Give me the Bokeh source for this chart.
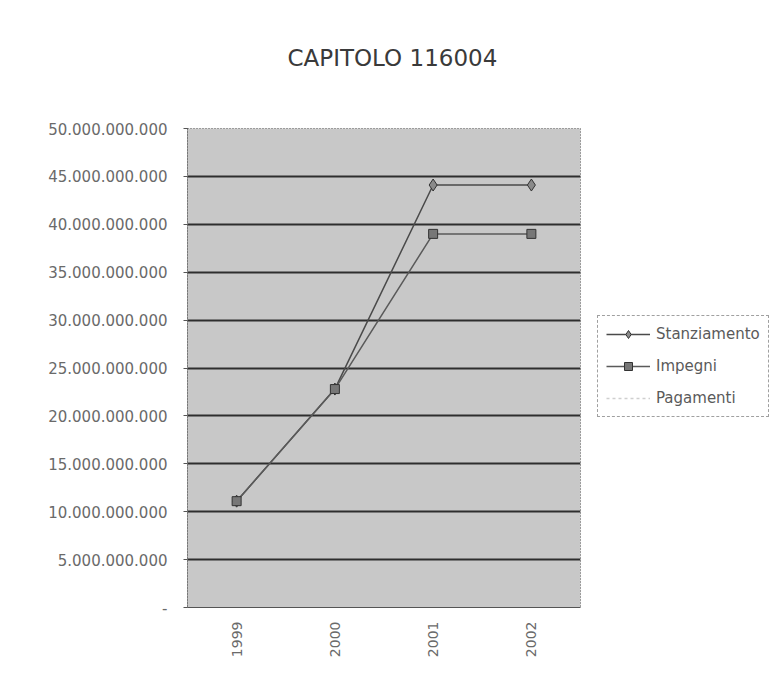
from bokeh.plotting import figure
from bokeh.models import FixedTicker, Legend, LegendItem, Title, Range1d
from bokeh.layouts import row
from bokeh.embed import file_html
from bokeh.resources import INLINE

years = ["1999", "2000", "2001", "2002"]
stanziamento = [11.1e9, 22.8e9, 44.1e9, 44.1e9]
impegni = [11.1e9, 22.8e9, 39.0e9, 39.0e9]
series_labels = ["Stanziamento", "Impegni", "Pagamenti"]
y_ticks = [0, 5e9, 10e9, 15e9, 20e9, 25e9, 30e9, 35e9, 40e9, 45e9, 50e9]


def it_fmt(v):
    if v == 0:
        return "-"
    return f"{int(v):,}".replace(",", ".")


FONT = "DejaVu Sans"
S_LINE = dict(line_color="#4a4a4a", line_width=1.5)
S_MARK = dict(marker="diamond", size=12, fill_color="#8a8a8a", line_color="#333333")
I_LINE = dict(line_color="#5a5a5a", line_width=1.5)
I_MARK = dict(marker="square", size=9, fill_color="#777777", line_color="#333333")
P_LINE = dict(line_color="#cfcfcf", line_width=1.5, line_dash="3 3")

p = figure(width=582, height=684, x_range=years, y_range=(0, 50e9),
           output_backend="svg", toolbar_location=None,
           min_border_left=187, min_border_right=2,
           min_border_top=128, min_border_bottom=77,
           background_fill_color="#c8c8c8", border_fill_color="white")
p.x_range.range_padding = 0

# spacer between the frame and the title (first "above" item sits next to the frame)
p.add_layout(Title(text=" ", text_font_size="2px", text_color="white",
                   standoff=54), "above")
p.add_layout(Title(text="CAPITOLO 116004", align="left", offset=100,
                   text_font=FONT, text_font_size="23px",
                   text_font_style="normal", text_color="#3a3a3a",
                   standoff=0), "above")

p.outline_line_color = "#555555"
p.outline_line_dash = "1 2"

p.xgrid.grid_line_color = None
p.ygrid.grid_line_color = "#2e2e2e"
p.ygrid.grid_line_width = 2
p.ygrid.ticker = FixedTicker(ticks=y_ticks)

p.yaxis.ticker = FixedTicker(ticks=y_ticks)
p.yaxis.major_label_overrides = {t: it_fmt(t) for t in y_ticks}
p.yaxis.major_label_text_font = FONT
p.yaxis.major_label_text_font_size = "15px"
p.yaxis.major_label_text_color = "#6a6a6a"
p.yaxis.major_tick_out = 4
p.yaxis.major_tick_in = 0
p.yaxis.minor_tick_line_color = None
p.yaxis.axis_line_color = "#555555"
p.yaxis.axis_line_dash = "1 1"
p.yaxis.major_tick_line_color = "#555555"
p.yaxis.major_label_standoff = 16

p.xaxis.major_label_orientation = 3.14159265 / 2
p.xaxis.major_label_text_font = FONT
p.xaxis.major_label_text_font_size = "14px"
p.xaxis.major_label_text_color = "#6a6a6a"
p.xaxis.major_tick_line_color = None
p.xaxis.axis_line_color = "#555555"
p.xaxis.major_label_standoff = 8

p.line(years, stanziamento, **S_LINE)
p.scatter(years, stanziamento, **S_MARK)
p.line(years, impegni, **I_LINE)
p.scatter(years, impegni, **I_MARK)

# legend panel: separate figure so the legend sits outside the plot area.
# Its renderers carry the same series but the view range hides them, so only
# the legend swatches are visible.
lf = figure(width=195, height=684, output_backend="svg", toolbar_location=None,
            x_range=years, y_range=Range1d(-2, -1),
            x_axis_type=None, y_axis_type=None, min_border=0,
            outline_line_color=None, background_fill_color="white",
            border_fill_color="white")
lf.xgrid.grid_line_color = None
lf.ygrid.grid_line_color = None
l1 = lf.line(years, stanziamento, **S_LINE)
l1m = lf.scatter(years, stanziamento, **S_MARK)
l2 = lf.line(years, impegni, **I_LINE)
l2m = lf.scatter(years, impegni, **I_MARK)
l3 = lf.line(years, impegni, **P_LINE)

legend = Legend(items=[LegendItem(label=series_labels[0], renderers=[l1, l1m]),
                       LegendItem(label=series_labels[1], renderers=[l2, l2m]),
                       LegendItem(label=series_labels[2], renderers=[l3])],
                location=(15, 190), orientation="vertical",
                label_text_font=FONT, label_text_font_size="15px",
                label_text_color="#5a5a5a", glyph_width=44, glyph_height=20,
                label_standoff=6, spacing=12, padding=8, margin=0,
                border_line_color="#444444", border_line_dash="1 1",
                background_fill_color="white", background_fill_alpha=1)
lf.add_layout(legend, "center")

layout = row(p, lf)
open("out.html", "w").write(file_html(layout, INLINE))
